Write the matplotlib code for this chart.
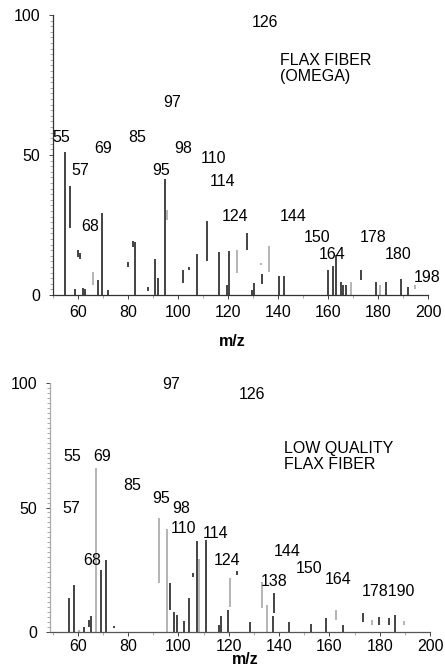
import matplotlib
matplotlib.use("Agg")
import matplotlib.pyplot as plt
from matplotlib.ticker import MultipleLocator

plt.rcParams["font.family"] = ["Liberation Sans", "DejaVu Sans"]

# --- top spectrum: flax fiber (omega) ---
top_dark_mz = [55, 57, 59, 60, 61, 62, 63, 68, 69.5, 72, 80, 82, 83, 88, 91, 92,
               95, 102, 104.5, 107.6, 111.4, 116.5, 119.5, 120.4, 127.5, 129.5,
               130.3, 133.5, 140.3, 142.2, 160.1, 162.1, 163.1, 165.1, 166.1,
               167.1, 173.1, 179.2, 183.2, 189.1, 191.9]
top_dark_lo = [0, 24, 0, 13.5, 13, 0, 0, 0, 0, 0, 10, 17, 0, 1.4, 0, 0,
               0, 4.3, 9, 0, 12, 0, 0, 0, 16, 0,
               0, 3.9, 0, 0, 0, 0, 0, 0, 0,
               0, 5.4, 0, 0, 0, 0]
top_dark_hi = [51, 39, 2, 16, 15, 2.6, 2.3, 5.4, 29.4, 1.9, 11.8, 19.3, 19, 2.8, 13, 6,
               41.4, 8.9, 10, 14.6, 26.4, 15.4, 3.6, 15.8, 22, 1.8,
               4.3, 7.5, 6.8, 6.8, 8.9, 10.5, 14.3, 4.8, 3.6,
               3.6, 8.9, 4.8, 4.8, 5.7, 2.8]
top_gray_mz = [66, 95.6, 123.5, 133.2, 136.3, 169.1, 180.8, 194.9]
top_gray_lo = [3.6, 26.8, 7.9, 10.8, 8.2, 0, 0, 2]
top_gray_hi = [8.3, 30.3, 16, 11.6, 17.5, 4.8, 3.6, 3.5]

top_labels = ["126", "97", "55", "69", "85", "98", "110", "57", "95", "114",
              "68", "124", "144", "150", "164", "178", "180", "198"]
top_label_x = [134.8, 97.6, 53.2, 70, 83.6, 102, 114, 60.8, 93.2, 118,
               64.8, 122.8, 146, 155.6, 161.6, 178, 188, 199.6]
top_label_y = [97.5, 68.9, 56.4, 52.5, 56.4, 52.5, 48.6, 44.3, 44.3, 40.4,
               24.3, 27.9, 27.9, 20.4, 14.3, 20.4, 14.3, 6.4]
top_title = "FLAX FIBER\n(OMEGA)"

# --- bottom spectrum: low quality flax fiber ---
bot_dark_mz = [56.6, 58.7, 62.7, 64.4, 65.3, 69.4, 71.2, 74.5, 96.5, 98.4, 99.6,
               102.2, 104.2, 106, 107.3, 111.1, 116, 116.9, 119.9, 123.5, 128.5,
               137.6, 138.2, 144, 152.8, 158.5, 165.3, 173.2, 179.7, 183.6, 185.9]
bot_dark_lo = [0, 0, 0, 2, 0, 0, 0, 1.5, 8.8, 0, 0,
               0, 0, 22, 0, 0, 0, 0, 0, 23, 0,
               0, 7.6, 0, 0, 0, 0, 4, 3, 3, 0]
bot_dark_hi = [13.6, 19, 2, 4.8, 6.6, 24.8, 28.9, 2.5, 19.7, 8, 7,
               4.4, 13.6, 23.7, 36.4, 37, 2.7, 6.3, 9, 24.5, 4,
               6.6, 15.7, 4, 3.3, 5.8, 2.7, 7.6, 6, 5.8, 7]
bot_gray_mz = [60.4, 67.3, 92.5, 95.5, 108.2, 120.7, 133.3, 135.3, 162.5, 177.1, 189.5]
bot_gray_lo = [0, 0, 19.8, 0, 0, 10, 9.6, 0, 4.8, 2.8, 2.8]
bot_gray_hi = [1, 66, 45.9, 41.5, 29.5, 21.7, 20, 11, 8.8, 4.8, 4.4]

bot_labels = ["97", "126", "55", "69", "85", "95", "98", "57", "110", "114",
              "68", "124", "144", "150", "138", "164", "178190"]
bot_label_x = [97.2, 129.4, 58.0, 69.8, 81.5, 93.3, 101.2, 57.6, 101.9, 114.9,
               65.9, 119.2, 143.1, 152.1, 138, 163.5, 183.5]
bot_label_y = [99.2, 95.2, 70.3, 70.3, 59, 53.8, 49.8, 49.8, 41.4, 39.4,
               28.9, 28.9, 32.5, 25.7, 20.1, 20.9, 16.1]
bot_title = "LOW QUALITY\nFLAX FIBER"

xticks = [60, 80, 100, 120, 140, 160, 180, 200]
yticks = [0, 50, 100]

DARK = "#111111"
GRAY = "#a0a0a0"
FS = 11.5


def style_axis(ax, xlim, spine_color):
    ax.set_xlim(*xlim)
    ax.set_ylim(0, 100)
    for side in ("top", "right"):
        ax.spines[side].set_visible(False)
    for side in ("left", "bottom"):
        ax.spines[side].set_color(spine_color)
        ax.spines[side].set_linewidth(0.9)
    ax.set_xticks(xticks)
    ax.set_yticks(yticks)
    ax.xaxis.set_minor_locator(MultipleLocator(10))
    ax.yaxis.set_minor_locator(MultipleLocator(2))
    ax.tick_params(which="major", length=3, width=0.7, color="#444444",
                   labelsize=FS, pad=4)
    ax.tick_params(which="minor", length=2, width=0.5, color="#888888")
    ax.tick_params(axis="y", pad=6)
    ax.set_xlabel("m/z", fontsize=FS, fontweight="bold")


def draw_spectrum(ax, dark, gray, labels, title, title_xy):
    ax.vlines(dark[0], dark[1], dark[2], colors=DARK, linewidth=1.1)
    ax.vlines(gray[0], gray[1], gray[2], colors=GRAY, linewidth=1.1)
    for txt, x, y in zip(*labels):
        ax.text(x, y, txt, ha="center", va="center", fontsize=FS, clip_on=False)
    ax.text(title_xy[0], title_xy[1], title, ha="left", va="top",
            fontsize=FS, linespacing=1.1)


fig = plt.figure(figsize=(4.45, 6.69), dpi=100)

ax1 = fig.add_axes([0.1191, 0.5590, 0.8427, 0.4185])
style_axis(ax1, (50, 200), "#333333")
draw_spectrum(ax1, (top_dark_mz, top_dark_lo, top_dark_hi),
              (top_gray_mz, top_gray_lo, top_gray_hi),
              (top_labels, top_label_x, top_label_y), top_title, (140.8, 86.4))
ax1.xaxis.set_label_coords(0.477, -0.139)

ax2 = fig.add_axes([0.1124, 0.0553, 0.8539, 0.3722])
style_axis(ax2, (49, 198), "#555555")
ax2.spines["left"].set_color("#aaaaaa")
ax2.tick_params(axis="x", pad=2)
draw_spectrum(ax2, (bot_dark_mz, bot_dark_lo, bot_dark_hi),
              (bot_gray_mz, bot_gray_lo, bot_gray_hi),
              (bot_labels, bot_label_x, bot_label_y), bot_title, (141.9, 76.7))
ax2.xaxis.set_label_coords(0.513, -0.080)

fig.savefig("out.png", dpi=100, facecolor="white")
